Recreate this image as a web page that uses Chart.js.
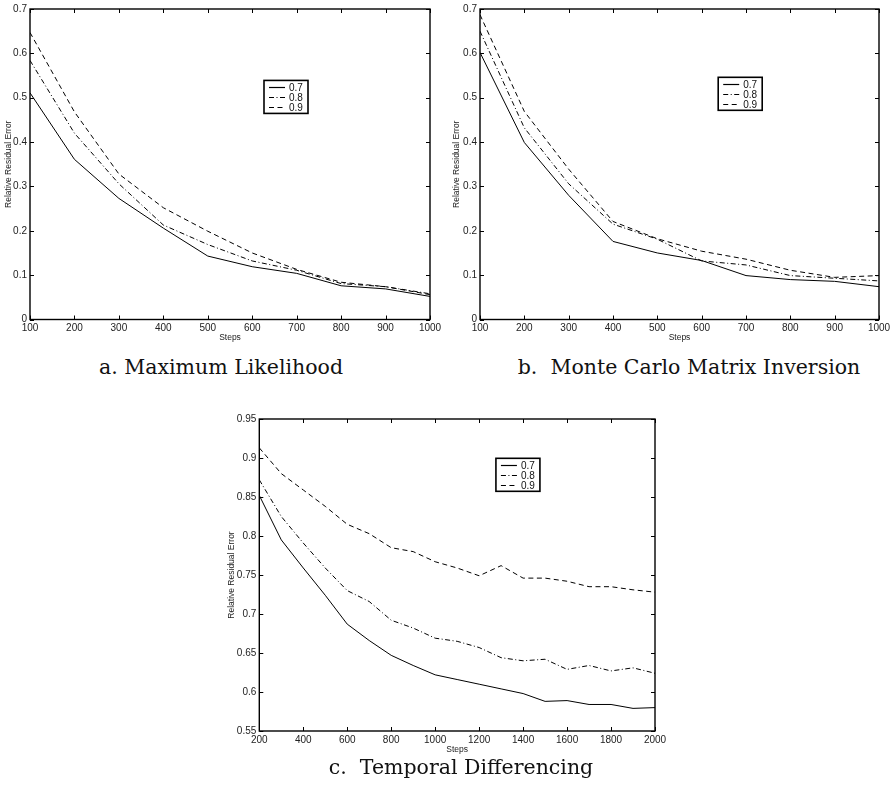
<!DOCTYPE html>
<html>
<head>
<meta charset="utf-8">
<script src="https://cdn.jsdelivr.net/npm/chart.js@4.4.1/dist/chart.umd.min.js"></script>
<style>
  html, body { margin: 0; padding: 0; background: #fff; }
  body { width: 895px; height: 793px; position: relative; overflow: hidden; }
  .panel { position: absolute; }
  .caption {
    position: absolute; white-space: nowrap; color: #111;
    font-family: "DejaVu Serif", "Liberation Serif", serif;
    font-size: 20.5px; line-height: 20px; transform: translateX(-50%);
  }
</style>
</head>
<body>
<div class="panel" style="left:0px;top:0px"><canvas id="chartML" width="445" height="348"></canvas></div>
<div class="panel" style="left:445px;top:0px"><canvas id="chartMC" width="450" height="348"></canvas></div>
<div class="panel" style="left:215px;top:400px"><canvas id="chartTD" width="460" height="360"></canvas></div>
<div class="caption" style="left:221px;top:357px">a. Maximum Likelihood</div>
<div class="caption" style="left:689px;top:357px">b.&nbsp; Monte Carlo Matrix Inversion</div>
<div class="caption" style="left:461px;top:757px">c.&nbsp; Temporal Differencing</div>
<script>
// Series names (decay parameter)
const seriesLabels = ['0.7', '0.8', '0.9'];

// Panels a and b: steps 100..1000
const stepsShort = [100, 200, 300, 400, 500, 600, 700, 800, 900, 1000];
const mlErr07 = [0.511, 0.361, 0.273, 0.206, 0.143, 0.119, 0.104, 0.076, 0.069, 0.052];
const mlErr08 = [0.584, 0.420, 0.306, 0.213, 0.169, 0.132, 0.111, 0.081, 0.074, 0.058];
const mlErr09 = [0.647, 0.468, 0.328, 0.252, 0.199, 0.150, 0.113, 0.084, 0.074, 0.056];

const mcErr07 = [0.602, 0.399, 0.280, 0.176, 0.150, 0.133, 0.099, 0.090, 0.086, 0.074];
const mcErr08 = [0.650, 0.432, 0.306, 0.215, 0.181, 0.132, 0.123, 0.099, 0.093, 0.087];
const mcErr09 = [0.687, 0.469, 0.339, 0.221, 0.182, 0.154, 0.136, 0.111, 0.095, 0.099];

// Panel c: steps 200..2000
const stepsLong = [200, 300, 400, 500, 600, 700, 800, 900, 1000, 1100, 1200, 1300, 1400, 1500, 1600, 1700, 1800, 1900, 2000];
const tdErr07 = [0.852, 0.795, 0.759, 0.724, 0.687, 0.666, 0.647, 0.634, 0.622, 0.616, 0.610, 0.604, 0.598, 0.588, 0.589, 0.584, 0.584, 0.579, 0.580];
const tdErr08 = [0.872, 0.825, 0.791, 0.759, 0.730, 0.716, 0.692, 0.682, 0.669, 0.665, 0.657, 0.644, 0.640, 0.642, 0.629, 0.634, 0.627, 0.631, 0.624];
const tdErr09 = [0.913, 0.880, 0.859, 0.838, 0.815, 0.803, 0.785, 0.780, 0.767, 0.759, 0.749, 0.762, 0.746, 0.746, 0.742, 0.735, 0.735, 0.731, 0.728];

// Tick labels
const xTicksShort = [100, 200, 300, 400, 500, 600, 700, 800, 900, 1000];
const yTicksShort = [0, 0.1, 0.2, 0.3, 0.4, 0.5, 0.6, 0.7];
const xTicksLong = [200, 400, 600, 800, 1000, 1200, 1400, 1600, 1800, 2000];
const yTicksLong = [0.55, 0.6, 0.65, 0.7, 0.75, 0.8, 0.85, 0.9, 0.95];

const SANS = '"Liberation Sans", Arial, Helvetica, sans-serif';
const lineDashes = [[], [5, 2.5, 1, 2.5], [5, 3.5]];

// Closed axes box with inward tick marks on all four sides
const boxTicksPlugin = {
  id: 'boxTicks',
  afterDatasetsDraw(chart) {
    const { ctx, chartArea: a, scales } = chart;
    const len = 4;
    ctx.save();
    ctx.strokeStyle = '#000';
    ctx.lineWidth = 1;
    ctx.beginPath();
    scales.x.ticks.forEach(t => {
      const px = Math.round(scales.x.getPixelForValue(t.value)) + 0.5;
      ctx.moveTo(px, a.bottom); ctx.lineTo(px, a.bottom - len);
      ctx.moveTo(px, a.top); ctx.lineTo(px, a.top + len);
    });
    scales.y.ticks.forEach(t => {
      const py = Math.round(scales.y.getPixelForValue(t.value)) + 0.5;
      ctx.moveTo(a.left, py); ctx.lineTo(a.left + len, py);
      ctx.moveTo(a.right, py); ctx.lineTo(a.right - len, py);
    });
    ctx.stroke();
    ctx.lineWidth = 1.4;
    ctx.strokeRect(a.left, a.top, a.right - a.left, a.bottom - a.top);
    ctx.restore();
  }
};

// Boxed legend placed inside the plot area
const insetLegendPlugin = {
  id: 'insetLegend',
  afterDraw(chart, args, opts) {
    const { ctx, chartArea: a } = chart;
    const x0 = a.left + opts.fx * (a.right - a.left);
    const y0 = a.top + opts.fy * (a.bottom - a.top);
    const w = 44, h = 33;
    ctx.save();
    ctx.fillStyle = '#fff';
    ctx.fillRect(x0, y0, w, h);
    ctx.strokeStyle = '#000';
    ctx.lineWidth = 1.6;
    ctx.strokeRect(x0, y0, w, h);
    ctx.font = '10px ' + SANS;
    ctx.textBaseline = 'middle';
    ctx.fillStyle = '#111';
    chart.data.datasets.forEach((ds, i) => {
      const yy = Math.round(y0 + 6.5 + i * 10.2) + 0.5;
      ctx.beginPath();
      ctx.lineWidth = 1.2;
      ctx.setLineDash(ds.borderDash || []);
      ctx.moveTo(x0 + 5, yy);
      ctx.lineTo(x0 + 21, yy);
      ctx.stroke();
      ctx.setLineDash([]);
      ctx.fillText(ds.label, x0 + 25, yy + 0.5);
    });
    ctx.restore();
  }
};

function fmt(v) { return String(parseFloat(Number(v).toFixed(3))); }

function makeChart(id, steps, seriesList, xTicks, yTicks, g) {
  const datasets = seriesList.map((vals, i) => ({
    label: seriesLabels[i],
    data: steps.map((s, j) => ({ x: s, y: vals[j] })),
    borderColor: '#000',
    borderWidth: 1,
    borderDash: lineDashes[i],
    pointRadius: 0,
    tension: 0,
    fill: false
  }));
  return new Chart(document.getElementById(id), {
    type: 'line',
    data: { datasets },
    plugins: [boxTicksPlugin, insetLegendPlugin],
    options: {
      responsive: false,
      animation: false,
      devicePixelRatio: 1,
      layout: { autoPadding: false, padding: { top: g.padTop, right: g.padRight, left: 0, bottom: 0 } },
      plugins: {
        legend: { display: false },
        tooltip: { enabled: false },
        insetLegend: { fx: g.legendFx, fy: g.legendFy }
      },
      scales: {
        x: {
          type: 'linear',
          min: xTicks[0], max: xTicks[xTicks.length - 1],
          afterBuildTicks: s => { s.ticks = xTicks.map(v => ({ value: v })); },
          afterFit: s => { s.height = g.xHeight; },
          grid: { display: false, drawTicks: false },
          border: { display: false },
          ticks: { autoSkip: false, maxRotation: 0, padding: 3, color: '#222',
                   font: { family: SANS, size: 10 }, callback: v => fmt(v) },
          title: { display: true, text: 'Steps', color: '#222',
                   font: { family: SANS, size: 8.5 }, padding: { top: g.xTitlePad, bottom: g.xTitlePad } }
        },
        y: {
          type: 'linear',
          min: yTicks[0], max: yTicks[yTicks.length - 1],
          afterBuildTicks: s => { s.ticks = yTicks.map(v => ({ value: v })); },
          afterFit: s => { s.width = g.yWidth; },
          grid: { display: false, drawTicks: false },
          border: { display: false },
          ticks: { autoSkip: false, padding: 3, color: '#222',
                   font: { family: SANS, size: 10 }, callback: v => fmt(v) },
          title: { display: true, text: 'Relative Residual Error', color: '#222',
                   font: { family: SANS, size: 8.5 }, padding: { top: g.yTitlePad, bottom: g.yTitlePad } }
        }
      }
    }
  });
}

makeChart('chartML', stepsShort, [mlErr07, mlErr08, mlErr09], xTicksShort, yTicksShort,
  { padTop: 4.7, padRight: 15, yWidth: 30, xHeight: 28.5, xTitlePad: 5, yTitlePad: 3.3, legendFx: 0.585, legendFy: 0.23 });
makeChart('chartMC', stepsShort, [mcErr07, mcErr08, mcErr09], xTicksShort, yTicksShort,
  { padTop: 4.7, padRight: 16, yWidth: 35, xHeight: 28.5, xTitlePad: 5, yTitlePad: 6.5, legendFx: 0.597, legendFy: 0.22 });
makeChart('chartTD', stepsLong, [tdErr07, tdErr08, tdErr09], xTicksLong, yTicksLong,
  { padTop: 19, padRight: 20, yWidth: 44.3, xHeight: 29, xTitlePad: 5, yTitlePad: 12, legendFx: 0.598, legendFy: 0.126 });
</script>
</body>
</html>
